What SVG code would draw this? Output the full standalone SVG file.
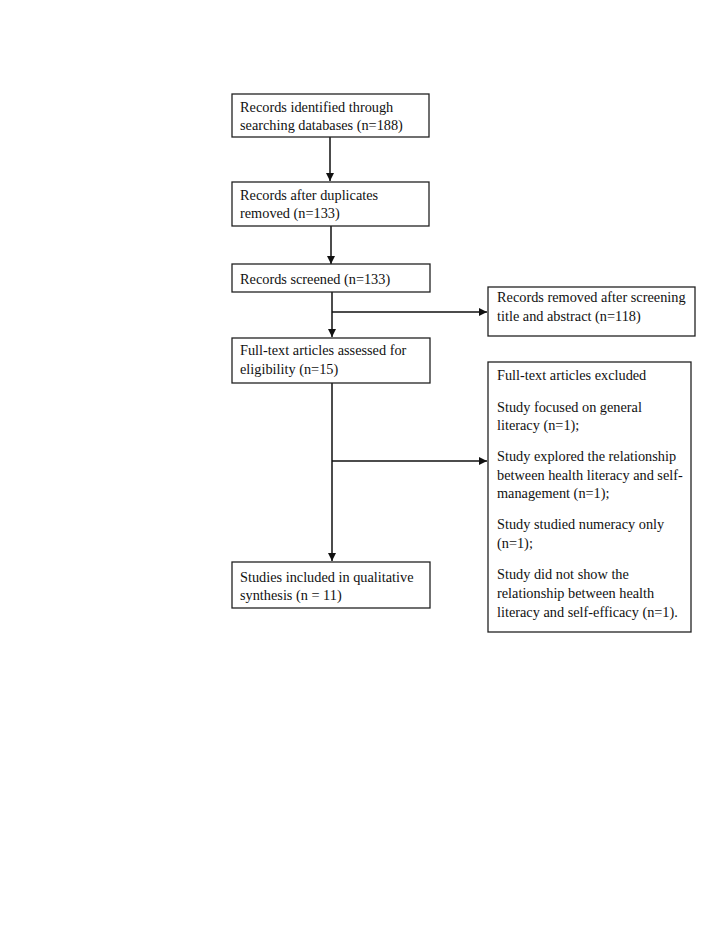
<svg xmlns="http://www.w3.org/2000/svg" width="728" height="942" viewBox="0 0 728 942">
<style>
.box{fill:#fff;stroke:#222;stroke-width:1.3}
.t{font-family:"Liberation Serif","Times New Roman",serif;font-size:14.3px;fill:#111}
.c{stroke:#111;stroke-width:1.5;fill:none}
</style>
<defs>
<marker id="ah" viewBox="0 0 10 10" refX="10" refY="5" markerWidth="8" markerHeight="8" markerUnits="userSpaceOnUse" orient="auto"><path d="M0,0L10,5L0,10z" fill="#111"/></marker>
</defs>
<rect width="728" height="942" fill="#fff"/>
<g id="connectors">
<path class="c" d="M330,137V181" marker-end="url(#ah)"/>
<path class="c" d="M331,226V264" marker-end="url(#ah)"/>
<path class="c" d="M332,292V337" marker-end="url(#ah)"/>
<path class="c" d="M332,312H487" marker-end="url(#ah)"/>
<path class="c" d="M332,383V561" marker-end="url(#ah)"/>
<path class="c" d="M332,461H487" marker-end="url(#ah)"/>
</g>
<g id="n1"><rect class="box" x="232" y="94" width="197" height="43"/>
<text class="t" x="240" y="112">Records identified through</text>
<text class="t" x="240" y="130">searching databases (n=188)</text></g>
<g id="n2"><rect class="box" x="232" y="182" width="197" height="44"/>
<text class="t" x="240" y="200">Records after duplicates</text>
<text class="t" x="240" y="218">removed (n=133)</text></g>
<g id="n3"><rect class="box" x="232" y="264" width="198" height="28"/>
<text class="t" x="240" y="284">Records screened (n=133)</text></g>
<g id="n4"><rect class="box" x="488" y="287" width="207" height="49"/>
<text class="t" x="497" y="302">Records removed after screening</text>
<text class="t" x="497" y="321">title and abstract (n=118)</text></g>
<g id="n5"><rect class="box" x="232" y="338" width="198" height="45"/>
<text class="t" x="240" y="355">Full-text articles assessed for</text>
<text class="t" x="240" y="374">eligibility (n=15)</text></g>
<g id="n6"><rect class="box" x="488" y="362" width="203" height="270"/>
<text class="t" x="497" y="380">Full-text articles excluded</text>
<text class="t" x="497" y="412">Study focused on general</text>
<text class="t" x="497" y="430">literacy (n=1);</text>
<text class="t" x="497" y="461">Study explored the relationship</text>
<text class="t" x="497" y="480">between health literacy and self-</text>
<text class="t" x="497" y="498">management (n=1);</text>
<text class="t" x="497" y="529">Study studied numeracy only</text>
<text class="t" x="497" y="548">(n=1);</text>
<text class="t" x="497" y="579">Study did not show the</text>
<text class="t" x="497" y="598">relationship between health</text>
<text class="t" x="497" y="617">literacy and self-efficacy (n=1).</text></g>
<g id="n7"><rect class="box" x="232" y="562" width="198" height="46"/>
<text class="t" x="240" y="582">Studies included in qualitative</text>
<text class="t" x="240" y="600">synthesis (n = 11)</text></g>
</svg>
